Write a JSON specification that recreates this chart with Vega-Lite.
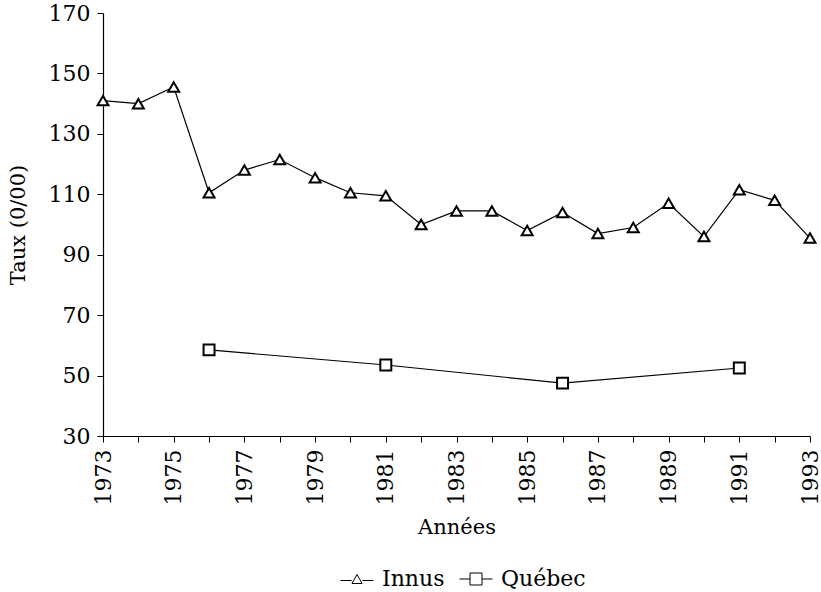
{
  "$schema": "https://vega.github.io/schema/vega-lite/v6.json",
  "width": 707,
  "height": 423,
  "autosize": {"type": "none"},
  "padding": {"left": 103, "top": 13, "right": 11, "bottom": 156},
  "config": {
    "view": {"stroke": null},
    "font": "DejaVu Serif",
    "axis": {
      "grid": false,
      "domainColor": "black",
      "domainWidth": 1.2,
      "tickColor": "black",
      "tickWidth": 1,
      "labelColor": "black",
      "titleColor": "black",
      "labelFont": "DejaVu Serif",
      "titleFont": "DejaVu Serif",
      "titleFontWeight": "normal"
    }
  },
  "datasets": {
    "rates": [
      {"annee": 1973, "taux": 141, "serie": "Innus"},
      {"annee": 1974, "taux": 140, "serie": "Innus"},
      {"annee": 1975, "taux": 145.5, "serie": "Innus"},
      {"annee": 1976, "taux": 110.5, "serie": "Innus"},
      {"annee": 1977, "taux": 118, "serie": "Innus"},
      {"annee": 1978, "taux": 121.5, "serie": "Innus"},
      {"annee": 1979, "taux": 115.5, "serie": "Innus"},
      {"annee": 1980, "taux": 110.5, "serie": "Innus"},
      {"annee": 1981, "taux": 109.5, "serie": "Innus"},
      {"annee": 1982, "taux": 100, "serie": "Innus"},
      {"annee": 1983, "taux": 104.5, "serie": "Innus"},
      {"annee": 1984, "taux": 104.5, "serie": "Innus"},
      {"annee": 1985, "taux": 98, "serie": "Innus"},
      {"annee": 1986, "taux": 104, "serie": "Innus"},
      {"annee": 1987, "taux": 97, "serie": "Innus"},
      {"annee": 1988, "taux": 99, "serie": "Innus"},
      {"annee": 1989, "taux": 107, "serie": "Innus"},
      {"annee": 1990, "taux": 96, "serie": "Innus"},
      {"annee": 1991, "taux": 111.5, "serie": "Innus"},
      {"annee": 1992, "taux": 108, "serie": "Innus"},
      {"annee": 1993, "taux": 95.5, "serie": "Innus"},
      {"annee": 1976, "taux": 58.5, "serie": "Québec"},
      {"annee": 1981, "taux": 53.5, "serie": "Québec"},
      {"annee": 1986, "taux": 47.5, "serie": "Québec"},
      {"annee": 1991, "taux": 52.5, "serie": "Québec"}
    ]
  },
  "data": {"name": "rates"},
  "encoding": {
    "x": {
      "field": "annee",
      "type": "quantitative",
      "scale": {"domain": [1973, 1993], "nice": false, "zero": false},
      "axis": {
        "title": "Années",
        "titleFontSize": 21,
        "titleColor": "black",
        "titlePadding": 12,
        "values": [1973, 1974, 1975, 1976, 1977, 1978, 1979, 1980, 1981, 1982, 1983, 1984, 1985, 1986, 1987, 1988, 1989, 1990, 1991, 1992, 1993],
        "format": "d",
        "labelExpr": "datum.value % 2 == 1 ? datum.label : ''",
        "labelAngle": -90,
        "labelFontSize": 22,
        "labelPadding": 7,
        "labelFlush": false,
        "labelOverlap": false,
        "tickSize": 6
      }
    },
    "y": {
      "field": "taux",
      "type": "quantitative",
      "scale": {"domain": [30, 170], "nice": false, "zero": false},
      "axis": {
        "title": "Taux (0/00)",
        "titleFontSize": 21,
        "titleColor": "black",
        "titlePadding": 20,
        "values": [30, 50, 70, 90, 110, 130, 150, 170],
        "labelFontSize": 22,
        "labelPadding": 7,
        "tickSize": 6
      }
    }
  },
  "layer": [
    {
      "mark": {"type": "line", "color": "black", "strokeWidth": 1.2},
      "encoding": {"detail": {"field": "serie", "type": "nominal"}}
    },
    {
      "mark": {"type": "point", "filled": true, "fill": "white", "stroke": "black", "strokeWidth": 2, "size": 120, "opacity": 1},
      "encoding": {
        "shape": {
          "field": "serie",
          "type": "nominal",
          "scale": {"domain": ["Innus", "Québec"], "range": ["triangle-up", "square"]},
          "legend": null
        }
      }
    },
    {
      "transform": [{"filter": "datum.annee < 0"}],
      "mark": {"type": "point", "filled": false, "color": "black", "strokeWidth": 1, "opacity": 1},
      "encoding": {
        "shape": {
          "field": "serie",
          "type": "nominal",
          "scale": {
            "domain": ["Innus", "Québec"],
            "range": [
              "M-3.3,0.3H-1.1M1.1,0.3H3.3M-1,0.9L0,-0.9L1,0.9Z",
              "M-3.3,0H-1.2M1.2,0H3.3M-1.2,-1.2H1.2V1.2H-1.2Z"
            ]
          },
          "legend": {
            "title": null,
            "orient": "none",
            "legendX": 243,
            "legendY": 555,
            "padding": 0,
            "direction": "horizontal",
            "symbolSize": 100,
            "symbolStrokeWidth": 1,
            "labelFontSize": 22,
            "labelFont": "DejaVu Serif",
            "labelColor": "black",
            "labelOffset": 14,
            "columnPadding": 12,
            "encode": {
              "symbols": {
                "update": {
                  "stroke": {"value": "black"},
                  "fill": {"value": "white"},
                  "opacity": {"value": 1},
                  "strokeWidth": {"value": 1.2}
                }
              }
            }
          }
        }
      }
    }
  ],
  "resolve": {"scale": {"shape": "independent"}}
}
